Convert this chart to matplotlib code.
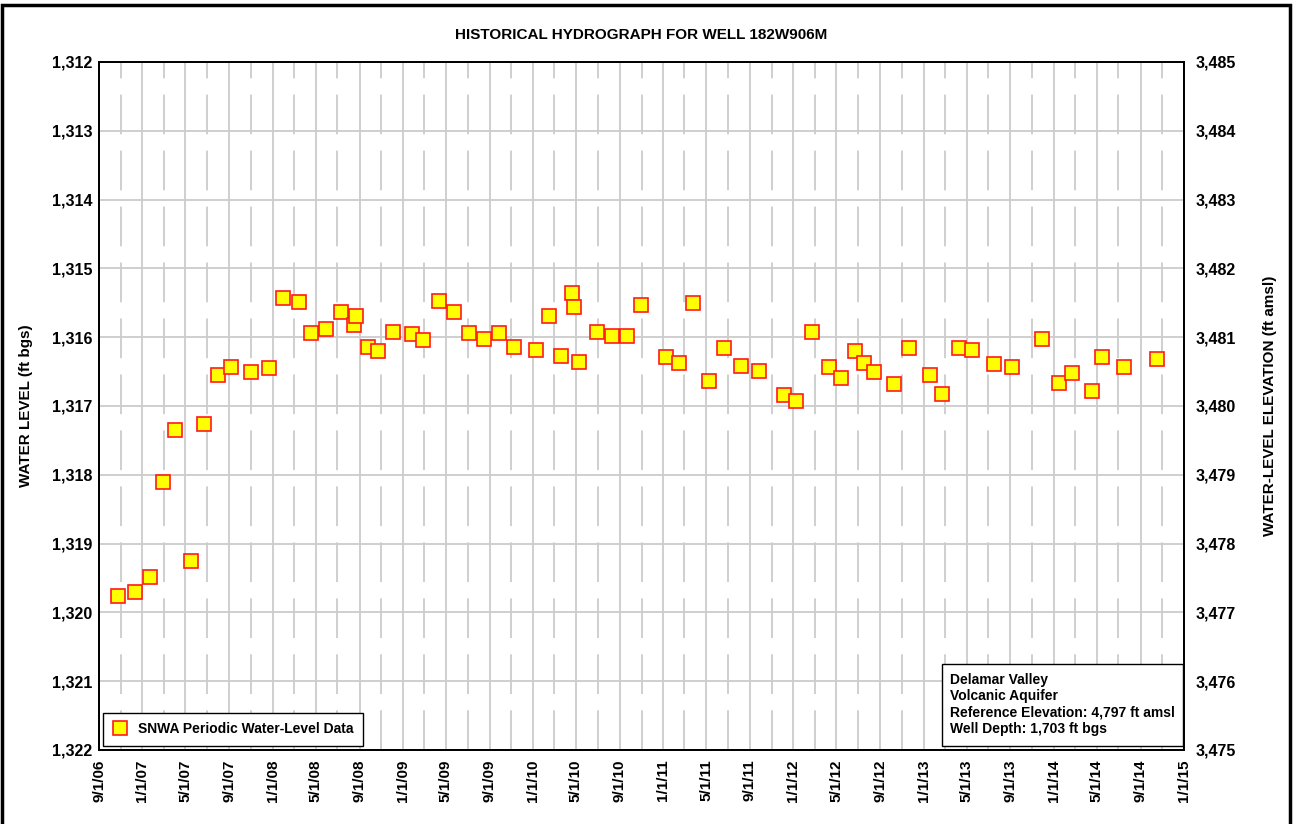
import matplotlib
matplotlib.use("Agg")
import matplotlib.pyplot as plt
import matplotlib.dates as mdates
from matplotlib.ticker import FuncFormatter, FixedLocator
from matplotlib.patches import Rectangle
import datetime as dt

plt.rcParams['font.family'] = ['Liberation Sans', 'DejaVu Sans']
plt.rcParams['font.weight'] = 'bold'

title = "HISTORICAL HYDROGRAPH FOR WELL 182W906M"
series_label = "SNWA Periodic Water-Level Data"
info_lines = ["Delamar Valley", "Volcanic Aquifer",
              "Reference Elevation: 4,797 ft amsl", "Well Depth: 1,703 ft bgs"]
ref_elev = 4797

dates = [
    "2006-10-24", "2006-12-11", "2007-01-22", "2007-02-28", "2007-04-02",
    "2007-05-17", "2007-06-23", "2007-08-01", "2007-09-06", "2007-11-01",
    "2007-12-22", "2008-01-30", "2008-03-15", "2008-04-18", "2008-05-30",
    "2008-07-11", "2008-08-16", "2008-08-22", "2008-09-25", "2008-10-23",
    "2008-12-04", "2009-01-26", "2009-02-26", "2009-04-12", "2009-05-24",
    "2009-07-05", "2009-08-16", "2009-09-27", "2009-11-08", "2010-01-09",
    "2010-02-15", "2010-03-20", "2010-04-20", "2010-04-26", "2010-05-10",
    "2010-06-29", "2010-08-10", "2010-09-21", "2010-10-31", "2011-01-09",
    "2011-02-14", "2011-03-26", "2011-05-10", "2011-06-21", "2011-08-07",
    "2011-09-27", "2011-12-06", "2012-01-09", "2012-02-23", "2012-04-10",
    "2012-05-14", "2012-06-22", "2012-07-17", "2012-08-15", "2012-10-10",
    "2012-11-21", "2013-01-19", "2013-02-21", "2013-04-10", "2013-05-16",
    "2013-07-17", "2013-09-06", "2013-11-29", "2014-01-16", "2014-02-21",
    "2014-04-18", "2014-05-16", "2014-07-17", "2014-10-18",
]
levels = [
    1319.76, 1319.70, 1319.49, 1318.10, 1317.35,
    1319.25, 1317.26, 1316.55, 1316.43, 1316.51,
    1316.45, 1315.43, 1315.49, 1315.94, 1315.88,
    1315.63, 1315.82, 1315.69, 1316.14, 1316.20,
    1315.92, 1315.95, 1316.04, 1315.47, 1315.63,
    1315.94, 1316.03, 1315.94, 1316.14, 1316.19,
    1315.69, 1316.27, 1315.36, 1315.56, 1316.36,
    1315.92, 1315.98, 1315.98, 1315.53, 1316.29,
    1316.38, 1315.50, 1316.64, 1316.16, 1316.42,
    1316.49, 1316.84, 1316.93, 1315.92, 1316.43,
    1316.59, 1316.20, 1316.38, 1316.51, 1316.68,
    1316.16, 1316.55, 1316.83, 1316.16, 1316.19,
    1316.39, 1316.43, 1316.03, 1316.67, 1316.52,
    1316.78, 1316.29, 1316.43, 1316.32,
]

x_start = dt.date(2006, 9, 1)
x_end = dt.date(2015, 1, 1)
y_top, y_bottom = 1312, 1322

xdates = [dt.datetime.strptime(d, "%Y-%m-%d") for d in dates]

W, H = 1294, 824
fig = plt.figure(figsize=(W/100, H/100), dpi=100)
ax = fig.add_axes([99/W, 1-750/H, (1184-99)/W, (750-62)/H])

# major ticks every 4 months, minor gridlines in between
major = []
minor = []
y, m = 2006, 9
i = 0
while (y, m) <= (2015, 1):
    d = dt.date(y, m, 1)
    if i % 2 == 0:
        major.append(mdates.date2num(d))
    else:
        minor.append(mdates.date2num(d))
    i += 1
    m += 2
    if m > 12:
        m -= 12
        y += 1

ax.set_xlim(mdates.date2num(x_start), mdates.date2num(x_end))
ax.set_ylim(y_bottom, y_top)
ax.xaxis.set_major_locator(FixedLocator(major))
ax.xaxis.set_minor_locator(FixedLocator(minor))
ax.xaxis.set_major_formatter(FuncFormatter(
    lambda v, p: "{d.month}/{d.day}/{yy:02d}".format(d=mdates.num2date(v), yy=mdates.num2date(v).year % 100)))
ax.set_yticks(range(y_top, y_bottom + 1))
ax.yaxis.set_major_formatter(FuncFormatter(lambda v, p: f"{int(round(v)):,}"))

ax.grid(True, which='major', axis='both', color='#cccccc', lw=1.3, ls='-')
ax.grid(True, which='minor', axis='x', color='#cccccc', lw=1.3, ls=(0, (22, 9)))
ax.set_axisbelow(True)

ax.plot(xdates, levels, ls='none', marker='s', ms=10.5, mfc='#ffff00',
        mec='#ff1a1a', mew=1.2, label=series_label, zorder=3)

ax.tick_params(axis='x', which='both', length=0, pad=7, labelsize=11, rotation=90)
ax.tick_params(axis='y', which='both', length=0, pad=5, labelsize=11.5)
for lab in ax.get_xticklabels() + ax.get_yticklabels():
    lab.set_fontweight('bold')
for s in ax.spines.values():
    s.set_linewidth(1.3)
    s.set_color('black')

ax2 = ax.twinx()
ax2.set_ylim(ref_elev - y_bottom, ref_elev - y_top)
ax2.set_yticks(range(ref_elev - y_bottom, ref_elev - y_top + 1))
ax2.yaxis.set_major_formatter(FuncFormatter(lambda v, p: f"{int(round(v)):,}"))
ax2.tick_params(axis='y', length=0, pad=8.5, labelsize=11.5)
for lab in ax2.get_yticklabels():
    lab.set_fontweight('bold')
for s in ax2.spines.values():
    s.set_linewidth(1.3)

ax.set_ylabel("WATER LEVEL (ft bgs)", fontsize=11, fontweight='bold')
ax.yaxis.set_label_coords((33-99)/1085, 0.5)
ax2.set_ylabel("WATER-LEVEL ELEVATION (ft amsl)", fontsize=11, fontweight='bold')
ax2.yaxis.set_label_coords((1263-99)/1085, 0.5)

fig.text(641.5/W, 1-35/H, title, ha='center', va='center', fontsize=11, fontweight='bold')

leg = ax.legend(loc='lower left', bbox_to_anchor=(4/1085, 4/688), fancybox=False,
                edgecolor='black', framealpha=1, prop={'weight': 'bold', 'size': 10},
                handletextpad=0.8, borderpad=0.7, handlelength=1.0, borderaxespad=0)
leg.get_frame().set_linewidth(1.0)

# info box
ax.add_patch(Rectangle(((942-99)/1085, (750-746)/688), (1183-942)/1085, (746-664)/688,
                       transform=ax.transAxes, fc='white', ec='black', lw=1.0, zorder=5))
ax.text((950-99)/1085, (750-673)/688, "\n".join(info_lines), transform=ax.transAxes,
        ha='left', va='top', fontsize=10, fontweight='bold', linespacing=1.2, zorder=6)

fig.patches.append(Rectangle((2/W, -0.01), 1288/W, 1.01 - 5/H, transform=fig.transFigure,
                             fill=False, ec='black', lw=2.5))

fig.savefig("out.png", dpi=100)
